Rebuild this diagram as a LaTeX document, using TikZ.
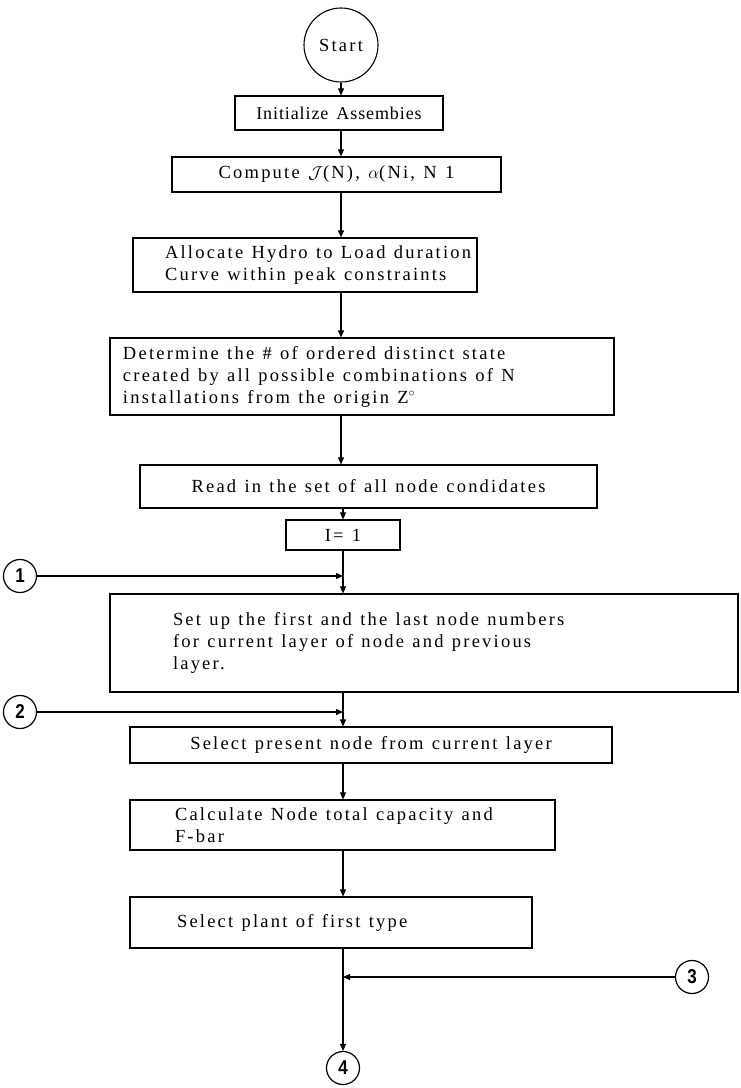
\documentclass[tikz,border=0pt]{standalone}
\usepackage{fontspec}
\setmainfont{Liberation Serif}[LetterSpace=12]
\newfontfamily\numfont{Liberation Sans}[FakeStretch=0.85]
\newcommand{\ind}[1]{\hspace*{#1}}
\usetikzlibrary{arrows.meta}
\begin{document}
\begin{tikzpicture}[x=1pt,y=-1pt,
  every node/.style={font=\fontsize{18.5}{22}\selectfont},
  box/.style={draw,line width=1.1pt,rectangle,inner ysep=0pt,inner xsep=0pt,
    execute at begin node={\spaceskip=.45em plus .1em\relax}},
  lbox/.style={box,align=left},
  conn/.style={draw,circle,line width=1.2pt,inner sep=0pt,minimum size=33pt,font=\numfont\bfseries\fontsize{20}{20}\selectfont},
  arr/.style={line width=1.1pt,-{Triangle[length=7pt,width=6pt]}}]
\useasboundingbox (0,0) rectangle (740,1088);
% start
\node[draw,circle,line width=1.1pt,minimum size=74pt,inner sep=0pt] (start) at (341,45) {Start};
% boxes
\node[box,minimum width=208pt,minimum height=34pt,font=\fontsize{18}{22}\selectfont\addfontfeatures{LetterSpace=5}] (init) at (339,113) {Initialize Assembies};
\node[box,minimum width=329pt,minimum height=35pt] (comp) at (336.5,174.5) {Compute $\mathcal{J}$(N), $\alpha$(Ni, N 1};
\node[lbox,minimum height=54pt,text width=344pt] (alloc) at (305,265) {\ind{32pt}Allocate Hydro to Load duration\\\ind{32pt}Curve within peak constraints};
\node[lbox,minimum height=77pt,text width=504pt] (det) at (362,376.5) {\ind{13pt}Determine the \# of ordered distinct state\\\ind{13pt}created by all possible combinations of N\\\ind{13pt}installations from the origin Z$^{\circ}$};
\node[box,minimum width=457pt,minimum height=43pt] (read) at (368.5,486.5) {Read in the set of all node condidates};
\node[box,minimum width=114pt,minimum height=30pt] (ione) at (343,535) {I= 1};
\node[lbox,minimum height=98pt,text width=628pt] (setup) at (424,643) {\ind{63pt}Set up the first and the last node numbers\\\ind{63pt}for current layer of node and previous\\\ind{63pt}layer.};
\node[box,minimum width=482pt,minimum height=36pt] (selp) at (371,745) {Select present node from current layer};
\node[lbox,minimum height=50pt,text width=425pt] (calc) at (342.5,825) {\ind{45pt}Calculate Node total capacity and\\\ind{45pt}F-bar};
\node[lbox,minimum height=51pt,text width=402pt] (plant) at (331,922.5) {\ind{47pt}Select plant of first type};
% connectors
\node[conn] (c1) at (20,576) {1};
\node[conn] (c2) at (20,712) {2};
\node[conn] (c3) at (692,977) {3};
\node[conn] (c4) at (343,1068) {4};
\coordinate (j1) at (343,576);
\coordinate (j2) at (343,712);
\coordinate (j3) at (343,977);
\draw[arr] (start.south) -- (start.south |- init.north);
\draw[arr] (init.south -| start) -- (start |- comp.north);
\draw[arr] (comp.south -| start) -- (start |- alloc.north);
\draw[arr] (alloc.south -| start) -- (start |- det.north);
\draw[arr] (det.south -| start) -- (start |- read.north);
\draw[arr] (read.south -| ione) -- (ione.north);
\draw[arr] (ione.south) -- (ione.south |- setup.north);
\draw[arr] (c1.east) -- (j1);
\draw[arr] (setup.south -| ione) -- (ione |- selp.north);
\draw[arr] (c2.east) -- (j2);
\draw[arr] (selp.south -| ione) -- (ione |- calc.north);
\draw[arr] (calc.south -| ione) -- (ione |- plant.north);
\draw[arr] (plant.south -| c4) -- (c4.north);
\draw[arr] (c3.west) -- (j3);
\end{tikzpicture}
\end{document}
